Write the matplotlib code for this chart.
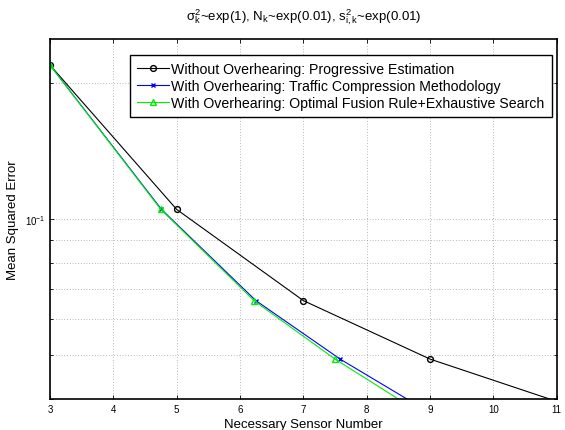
import matplotlib
matplotlib.use("Agg")
import matplotlib.pyplot as plt
from matplotlib.ticker import FixedLocator, FixedFormatter, NullFormatter

plt.rcParams['font.family'] = ['Liberation Sans', 'DejaVu Sans']
plt.rcParams['mathtext.fontset'] = 'custom'
plt.rcParams['mathtext.rm'] = 'Liberation Sans'
plt.rcParams['mathtext.it'] = 'Liberation Sans'

# data
x_without = [3, 5, 7, 9, 11]
mse_without = [0.219, 0.105, 0.066, 0.049, 0.0395]

x_traffic = [3, 4.76, 6.25, 7.58, 8.9]
mse_traffic = [0.219, 0.105, 0.066, 0.049, 0.038]

x_optimal = [3, 4.75, 6.22, 7.5, 8.75]
mse_optimal = [0.219, 0.105, 0.066, 0.049, 0.038]

labels = ['Without Overhearing: Progressive Estimation',
          'With Overhearing: Traffic Compression Methodology',
          'With Overhearing: Optimal Fusion Rule+Exhaustive Search']

fig = plt.figure(figsize=(5.65, 4.31), dpi=100)
ax = fig.add_axes([0.0885, 0.072, 0.897, 0.835])

ax.plot(x_without, mse_without, color='black', marker='o', markersize=4.2,
        markerfacecolor='none', linewidth=0.8, label=labels[0])
ax.plot(x_traffic, mse_traffic, color='blue', marker='x', markersize=3.5,
        linewidth=0.8, label=labels[1])
ax.plot(x_optimal, mse_optimal, color='#00ee00', marker='^', markersize=5,
        markerfacecolor='none', linewidth=0.8, label=labels[2])

ax.set_yscale('log')
ax.set_xlim(3, 11)
ax.set_ylim(0.04, 0.25)

ax.xaxis.set_major_locator(FixedLocator(range(3, 12)))
ax.yaxis.set_major_locator(FixedLocator([0.1]))
ax.yaxis.set_major_formatter(FixedFormatter([r'$10^{-1}$']))
ax.yaxis.set_minor_locator(FixedLocator([0.04, 0.05, 0.06, 0.07, 0.08, 0.09, 0.2]))
ax.yaxis.set_minor_formatter(NullFormatter())

ax.grid(True, which='both', linestyle=(0, (1, 3)), color='#777777', linewidth=0.5)
ax.tick_params(which='both', direction='in', top=True, right=True, labelsize=7,
               length=3, width=0.6)
ax.tick_params(which='minor', length=2)
for s in ax.spines.values():
    s.set_linewidth(1.2)

ax.set_xlabel('Necessary Sensor Number', fontsize=9.5, labelpad=3)
ax.set_ylabel('Mean Squared Error', fontsize=9.5, labelpad=4)
ax.set_title(r'$\sigma_k^2$~exp(1), N$_k$~exp(0.01), s$_{i,k}^2$~exp(0.01)', fontsize=9.5, pad=14)

leg = ax.legend(loc='upper right', bbox_to_anchor=(0.99, 0.955), fontsize=10.2,
                fancybox=False, edgecolor='black', framealpha=1,
                borderpad=0.5, labelspacing=0.2, handlelength=2.2,
                handletextpad=0.2, borderaxespad=0)
leg.get_frame().set_linewidth(1.0)

fig.savefig('out.png', dpi=100)
